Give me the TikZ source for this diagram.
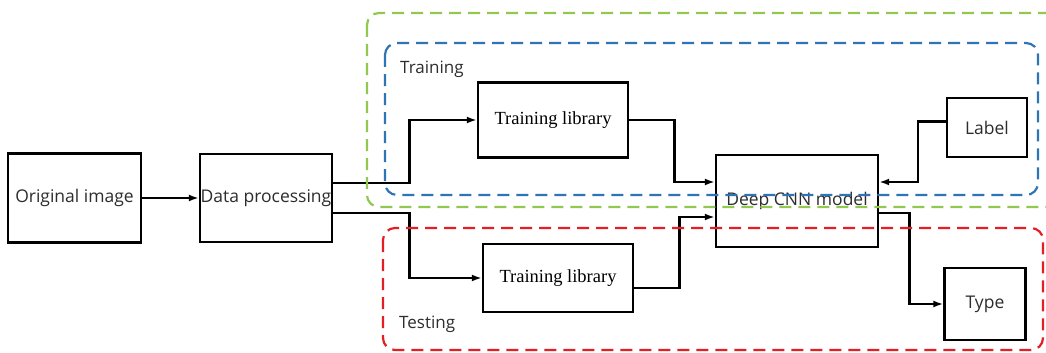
\documentclass[tikz,border=0pt]{standalone}
\usepackage{fontspec}
\setmainfont{Open Sans}
\newfontfamily\libfont{Liberation Serif}
\usetikzlibrary{arrows.meta,calc}
\definecolor{grn}{RGB}{146,200,80}
\definecolor{blu}{RGB}{46,117,182}
\definecolor{rd}{RGB}{228,30,36}
\definecolor{txt}{RGB}{45,45,45}
\tikzset{
  box/.style={draw=black, line width=2.4pt, fill=white, inner sep=0pt, text=txt,
              font=\fontsize{17.5}{19}\selectfont},
  libbox/.style={box, font=\libfont\fontsize{18.5}{20}\selectfont, text=black},
  conn/.style={line width=2.6pt, -{Latex[length=10pt,width=7pt]}},
  group/.style={line width=2.2pt, dash pattern=on 12pt off 7pt, rounded corners=12pt},
  tag/.style={text=txt, font=\fontsize{17}{19}\selectfont, inner sep=0pt}
}
\begin{document}
\begin{tikzpicture}[x=1pt, y=-1pt]
  \clip (0,0) rectangle (1046,353);
  \fill[white] (0,0) rectangle (1046,353);

  % processing chain
  \node[box, minimum width=133pt, minimum height=89pt] (orig) at (74.5,198) {Original image};
  \node[box, minimum width=132pt, minimum height=88pt] (data) at (266,198) {Data processing};
  \node[libbox, minimum width=150pt, minimum height=75pt] (tl1) at (553,120) {Training library};
  \node[libbox, minimum width=150pt, minimum height=68pt] (tl2) at (558,278) {Training library};
  \node[box, minimum width=162pt, minimum height=92pt] (cnn) at (797,201) {Deep CNN model};
  \node[box, minimum width=80pt, minimum height=59pt] (label) at (987,127.5) {Label};
  \node[box, minimum width=81pt, minimum height=72pt] (type) at (985,304) {Type};

  % connectors
  \draw[conn] (orig.east) -- (data.west);
  \draw[conn] ([yshift=15pt]data.east) -- ++(76,0) |- (tl1.west);
  \draw[conn] ([yshift=-15pt]data.east) -- ++(76,0) |- (tl2.west);
  \draw[conn] ([yshift=-10pt]tl2.east) -- ++(45,0) |- ([yshift=-16pt]cnn.west);
  \draw[conn] (tl1.east) -- ++(45,0) |- ([yshift=19pt]cnn.west);
  \draw[conn] ([yshift=6pt]label.west) -- ++(-28,0) |- ([yshift=19pt]cnn.east);
  \draw[conn] ([yshift=-12pt]cnn.east) -- ++(30,0) |- (type.west);

  % stage frames
  \draw[group, grn] (367,13) rectangle (1070,207);
  \draw[group, blu] (385,43) rectangle (1038,195);
  \draw[group, rd] (383,228) rectangle (1043,350);
  \node[tag, anchor=west] (trainlbl) at (400,69) {Training};
  \node[tag, anchor=west] (testlbl) at (399,324) {Testing};
\end{tikzpicture}
\end{document}
